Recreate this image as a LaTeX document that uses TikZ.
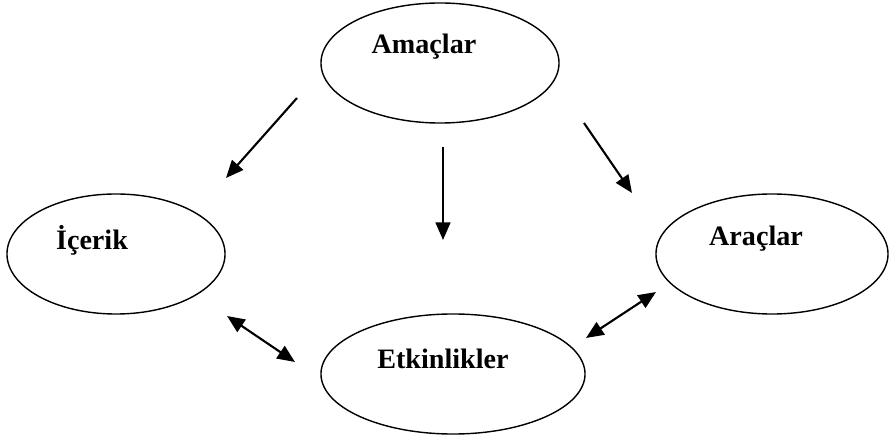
\documentclass[tikz,border=0pt]{standalone}
\usepackage{fontspec}
\setmainfont{Liberation Serif}
\usetikzlibrary{%
	calc,%
	arrows.meta,%
	shapes.geometric,%
}
\tikzset{
	>={Triangle[length=0.44cm,width=0.37cm]},%
	oval/.style={%
			draw,%
			ellipse,%
			line width=1pt,%
			inner sep=0,%
			minimum height=3cm},%
	lbl/.style={%
			font={\fontsize{20}{24}\selectfont\bfseries},%
			inner sep=0},%
	conn/.style={%
			line width=1.5pt},%
}

\begin{document}
\begin{tikzpicture}[x=0.025cm, y=-0.025cm]%
	\useasboundingbox (0,0) rectangle (889,439);

	% ellipses
	\node[oval, minimum width=5.95cm] (amac) at (440,63) {};
	\node[oval, minimum width=5.45cm] (icerik) at (116,254) {};
	\node[oval, minimum width=5.8cm] (arac) at (772,254) {};
	\node[oval, minimum width=6.6cm] (etkin) at (453,374) {};

	% labels
	\node[lbl] (amac-lbl) at ($(amac)+(-16,-16)$) {Amaçlar};
	\node[lbl] (icerik-lbl) at ($(icerik)+(-24,-14)$) {İçerik};
	\node[lbl] (arac-lbl) at ($(arac)+(-16,-15)$) {Araçlar};
	\node[lbl] (etkin-lbl) at ($(etkin)+(-10,-15)$) {Etkinlikler};

	% arrow ends
	\coordinate (p1) at (297,98);
	\coordinate (q1) at (226,178);
	\coordinate (p2) at (443,147);
	\coordinate (q2) at (443,240);
	\coordinate (p3) at (584,123);
	\coordinate (q3) at (632,193);
	\coordinate (p4) at (227,316);
	\coordinate (q4) at (295,362);
	\coordinate (p5) at (586,338);
	\coordinate (q5) at (656,292);

	\draw[->, conn] (p1) -- (q1);
	\draw[->, conn] (p2) -- (q2);
	\draw[->, conn] (p3) -- (q3);
	\draw[<->, conn] (p4) -- (q4);
	\draw[<->, conn] (p5) -- (q5);
\end{tikzpicture}
\end{document}
